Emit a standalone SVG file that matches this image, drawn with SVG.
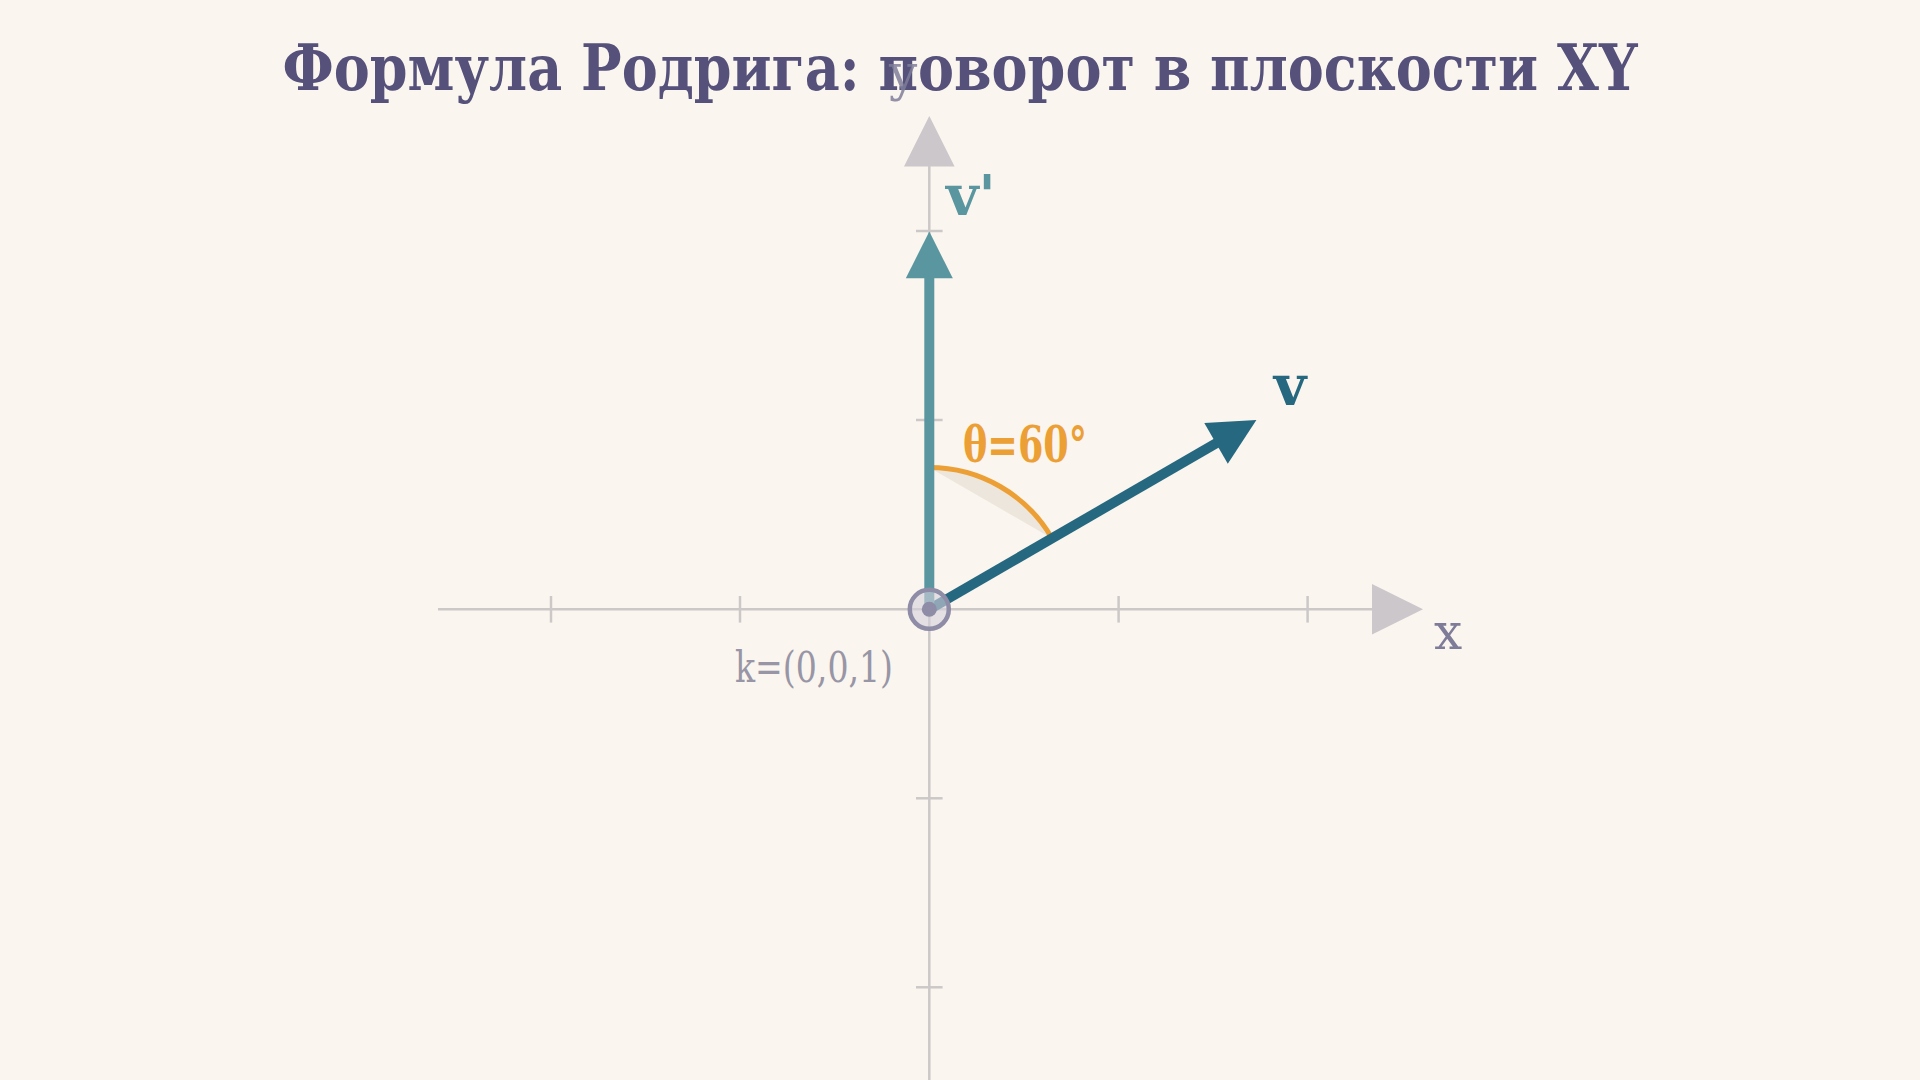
<svg xmlns="http://www.w3.org/2000/svg" width="1920" height="1080" viewBox="0 0 1920 1080">
  <style>
    .axis { stroke: #ccc8c8; stroke-width: 2.5; fill: none; }
    .axhead { fill: #cbc7ca; }
    .tick { stroke: #ccc8c8; stroke-width: 2.5; }
    .serif { font-family: "DejaVu Serif", "Liberation Serif", serif; }
    .title { font-size: 63px; font-weight: bold; fill: #55517a; }
    .axlabel { font-size: 50px; fill: #7f7c9a; }
    .veclabel { font-size: 56px; font-weight: bold; }
  </style>
  <rect x="0" y="0" width="1920" height="1080" fill="#faf5ee"/>

  <g id="title">
    <text class="serif title" x="960" y="90" text-anchor="middle" textLength="1355" lengthAdjust="spacingAndGlyphs">Формула Родрига: поворот в плоскости XY</text>
  </g>

  <g id="axes">
    <line class="axis" x1="438" y1="609.3" x2="1374" y2="609.3"/>
    <polygon class="axhead" points="1372,584 1423,609.3 1372,634.6"/>
    <line class="axis" x1="929.3" y1="1080" x2="929.3" y2="164"/>
    <polygon class="axhead" points="929.3,116 904,166.6 954.6,166.6"/>
    <g id="ticks">
      <line class="tick" x1="551" y1="596" x2="551" y2="622.6"/>
      <line class="tick" x1="740" y1="596" x2="740" y2="622.6"/>
      <line class="tick" x1="1118.6" y1="596" x2="1118.6" y2="622.6"/>
      <line class="tick" x1="1307.6" y1="596" x2="1307.6" y2="622.6"/>
      <line class="tick" x1="916" y1="231" x2="942.6" y2="231"/>
      <line class="tick" x1="916" y1="420" x2="942.6" y2="420"/>
      <line class="tick" x1="916" y1="798.3" x2="942.6" y2="798.3"/>
      <line class="tick" x1="916" y1="987.3" x2="942.6" y2="987.3"/>
    </g>
    <text class="serif axlabel" x="1448" y="649" text-anchor="middle">x</text>
    <text class="serif axlabel" x="903" y="90" text-anchor="middle" fill-opacity="0.85">y</text>
  </g>

  <g id="angle">
    <path d="M 929.3 467.55 A 141.75 141.75 0 0 1 1052.1 538.4 Z" fill="#ede6dc"/>
    <path d="M 929.3 467.55 A 141.75 141.75 0 0 1 1052.1 538.4" fill="none" stroke="#ec9f35" stroke-width="5"/>
    <text class="serif" x="963" y="462" font-size="50" font-weight="bold" fill="#ec9f35" textLength="124" lengthAdjust="spacingAndGlyphs">θ=60°</text>
  </g>

  <g id="connectors">
    <g id="vector-v">
      <line x1="929.3" y1="609.3" x2="1219" y2="441.6" stroke="#26687f" stroke-width="10"/>
      <polygon points="1256.4,420 1204.3,422.9 1227.8,463.7" fill="#26687f"/>
    </g>
    <g id="vector-v-prime">
      <line x1="929.3" y1="609.3" x2="929.3" y2="276" stroke="#5a96a0" stroke-width="10"/>
      <polygon points="929.3,231.6 905.8,278.3 952.8,278.3" fill="#5a96a0"/>
    </g>
  </g>

  <g id="origin">
    <circle cx="929.3" cy="609.3" r="19.5" fill="#d3d0da" fill-opacity="0.6" stroke="#8e8ca6" stroke-width="4.5"/>
    <circle cx="929.3" cy="609.3" r="7.5" fill="#8e8ca6"/>
    <text class="serif" x="735" y="682" font-size="42" fill="#9896a6" textLength="158" lengthAdjust="spacingAndGlyphs">k=(0,0,1)</text>
  </g>

  <g id="labels">
    <text class="serif veclabel" x="1290" y="405" text-anchor="middle" fill="#26687f">v</text>
    <text class="serif veclabel" x="946" y="215" fill="#5a96a0">v'</text>
  </g>
</svg>
